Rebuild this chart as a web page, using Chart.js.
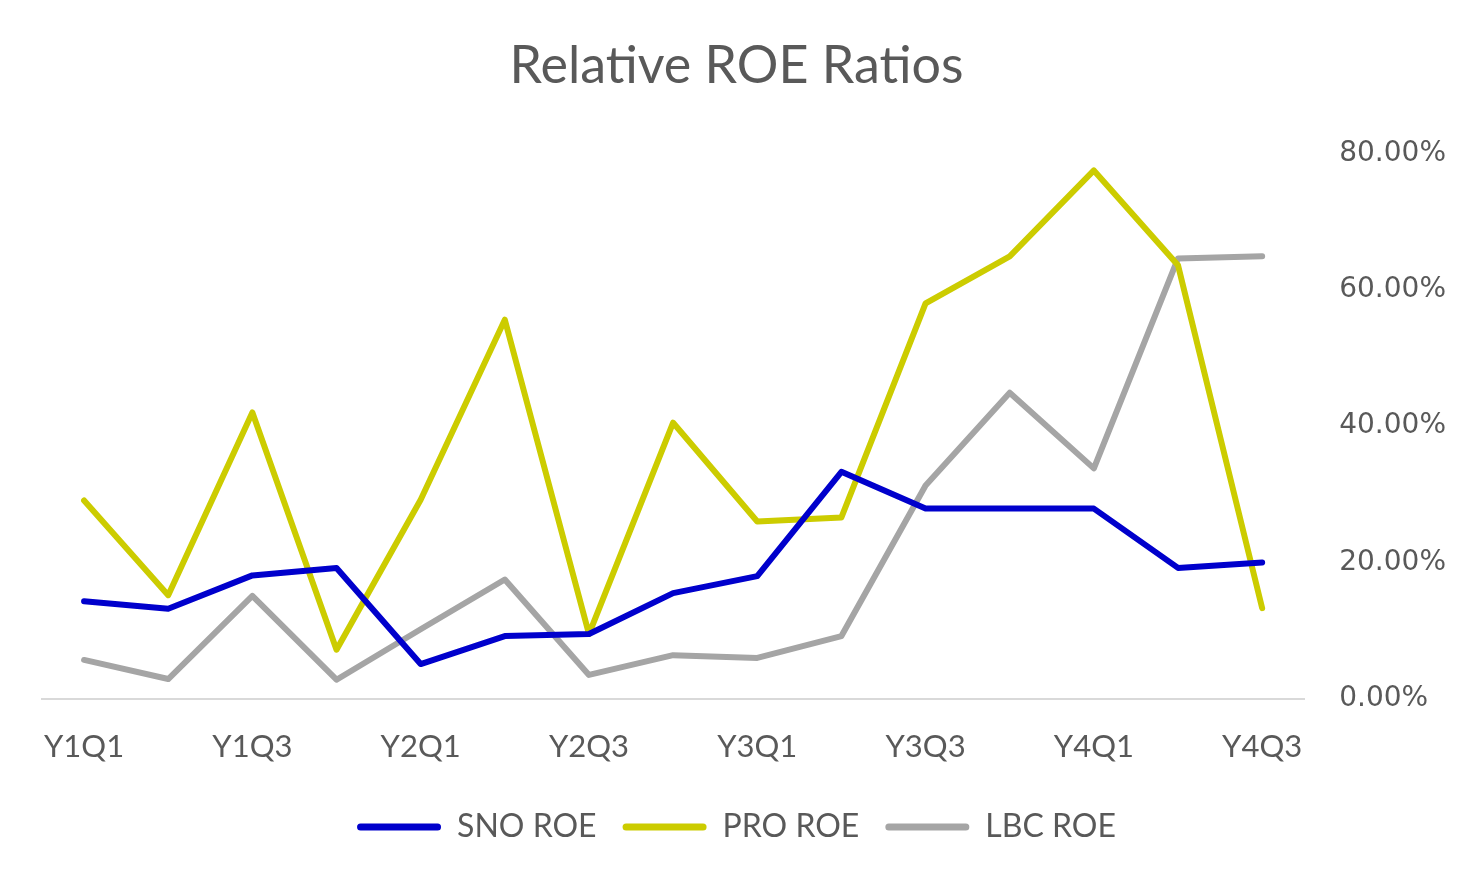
<!DOCTYPE html>
<html>
<head>
<meta charset="utf-8">
<script src="https://cdn.jsdelivr.net/npm/chart.js@4"></script>
<style>
  html, body { margin: 0; padding: 0; background: #fff; }
  #wrap { width: 1473px; height: 883px; }
</style>
</head>
<body>
<div id="wrap"><canvas id="line-chart"></canvas></div>
<script>
var quarters = ["Y1Q1","Y1Q2","Y1Q3","Y1Q4","Y2Q1","Y2Q2","Y2Q3","Y2Q4",
                "Y3Q1","Y3Q2","Y3Q3","Y3Q4","Y4Q1","Y4Q2","Y4Q3"];
var snoRoe = [14.3, 13.2, 18.1, 19.2, 5.1, 9.2, 9.5, 15.5, 18.0, 33.3, 27.9, 27.9, 27.9, 19.2, 20.0];
var proRoe = [29.1, 15.2, 42.0, 7.2, 29.2, 55.6, 9.5, 40.5, 26.0, 26.6, 58.0, 64.9, 77.5, 63.6, 13.3];
var lbcRoe = [5.7, 2.9, 15.1, 2.8, 10.2, 17.5, 3.5, 6.4, 6.0, 9.2, 31.3, 44.9, 33.8, 64.6, 64.9];
var yTicks = [0, 20, 40, 60, 80];

var txt = "#595959";
var font = "Lato, 'Open Sans', sans-serif";

new Chart(document.getElementById("line-chart"), {
  type: 'line',
  data: {
    labels: quarters,
    datasets: [{
        label: "SNO ROE",
        data: snoRoe,
        borderColor: "#0000cc",
        backgroundColor: "#0000cc"
      }, {
        label: "PRO ROE",
        data: proRoe,
        borderColor: "#cccc00",
        backgroundColor: "#cccc00"
      }, {
        label: "LBC ROE",
        data: lbcRoe,
        borderColor: "#a5a5a5",
        backgroundColor: "#a5a5a5"
      }
    ]
  },
  options: {
    responsive: true,
    maintainAspectRatio: false,
    animation: false,
    elements: {
      line: { borderWidth: 6, tension: 0, borderJoinStyle: 'round', borderCapStyle: 'round', fill: false },
      point: { radius: 0, hoverRadius: 0 }
    },
    layout: { padding: { left: 0, right: 0, top: 0, bottom: 30 } },
    plugins: {
      title: {
        display: true,
        text: 'Relative ROE Ratios',
        color: txt,
        font: { family: font, size: 52, weight: 'normal' },
        padding: { top: 35, bottom: 56 }
      },
      legend: {
        position: 'bottom',
        labels: {
          color: txt,
          font: { family: font, size: 32 },
          boxWidth: 84,
          boxHeight: 7,
          padding: 26,
          generateLabels: function (chart) {
            var items = Chart.defaults.plugins.legend.labels.generateLabels(chart);
            items.forEach(function (it) { it.lineWidth = 0; it.borderRadius = 3.5; });
            return items;
          }
        }
      },
      tooltip: { enabled: false }
    },
    scales: {
      x: {
        offset: true,
        grid: { display: false },
        border: { color: "#d9d9d9", width: 2 },
        ticks: {
          color: txt,
          font: { family: font, size: 31 },
          autoSkip: false,
          maxRotation: 0,
          padding: 22,
          callback: function (v, i) { return i % 2 === 0 ? quarters[i] : ''; }
        },
        afterFit: function (axis) { axis.height -= 3; }
      },
      y: {
        position: 'right',
        min: 0,
        max: 80,
        afterBuildTicks: function (axis) { axis.ticks = yTicks.map(function (v) { return { value: v }; }); },
        grid: { display: false },
        border: { display: false },
        ticks: {
          color: txt,
          font: { family: "'DejaVu Sans', sans-serif", size: 28 },
          padding: 27,
          callback: function (v) { return v.toFixed(2) + '%'; }
        }
      },
      spacer: {
        // empty left gutter so the title and legend stay centred on the page
        position: 'left',
        grid: { display: false },
        border: { display: false },
        ticks: { display: false },
        afterFit: function (axis) { axis.width = 42; }
      }
    }
  }
});
</script>
</body>
</html>
